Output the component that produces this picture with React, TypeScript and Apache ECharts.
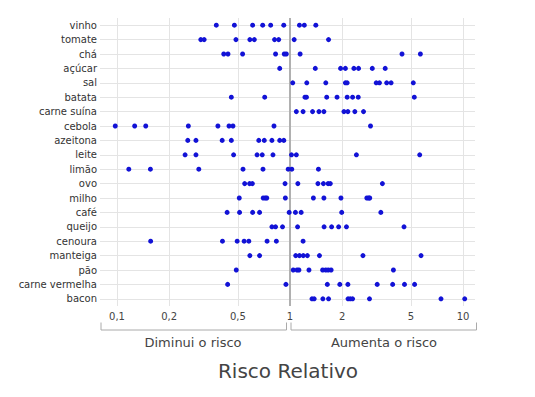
import React, { useEffect, useRef } from 'react';
import * as echarts from 'echarts';

const categories = ['vinho', 'tomate', 'chá', 'açúcar', 'sal', 'batata', 'carne suína', 'cebola', 'azeitona', 'leite', 'limão', 'ovo', 'milho', 'café', 'queijo', 'cenoura', 'manteiga', 'pão', 'carne vermelha', 'bacon'];

const vinho = [0.375, 0.477, 0.608, 0.695, 0.773, 0.92, 1.134, 1.21, 1.41];
const tomate = [0.305, 0.319, 0.487, 0.586, 0.622, 0.814, 0.86, 1.057, 1.67];
const cha = [0.414, 0.438, 0.532, 0.825, 0.926, 0.952, 1.144, 4.44, 5.67];
const acucar = [0.872, 1.4, 1.96, 2.09, 2.34, 2.49, 2.99, 3.55];
const sal = [1.037, 1.25, 1.61, 2.09, 2.14, 3.15, 3.29, 3.62, 3.84, 5.16];
const batata = [0.458, 0.714, 1.22, 1.245, 1.63, 1.87, 2.14, 2.3, 2.48, 5.23];
const carneSuina = [1.088, 1.19, 1.35, 1.47, 1.57, 2.05, 2.16, 2.37, 2.66];
const cebola = [0.0977, 0.1265, 0.1466, 0.2585, 0.383, 0.444, 0.468, 0.808, 2.92];
const azeitona = [0.2565, 0.286, 0.4055, 0.458, 0.66, 0.71, 0.786, 0.872, 0.921];
const leite = [0.2475, 0.286, 0.472, 0.645, 0.691, 0.797, 1.02, 1.088, 2.42, 5.62];
const limao = [0.117, 0.156, 0.297, 0.535, 0.698, 0.976, 1.024, 1.46];
const ovo = [0.547, 0.584, 0.606, 0.936, 1.11, 1.45, 1.56, 1.66, 1.71, 3.42];
const milho = [0.509, 0.7, 0.72, 0.734, 0.94, 1.365, 1.57, 1.97, 2.78, 2.85, 2.89];
const cafe = [0.433, 0.511, 0.608, 0.667, 0.989, 1.075, 1.16, 1.99, 3.35];
const queijo = [0.786, 0.825, 0.905, 1.106, 1.574, 1.74, 1.91, 2.12, 4.56];
const cenoura = [0.1565, 0.407, 0.495, 0.543, 0.578, 0.737, 0.834, 1.19];
const manteiga = [0.586, 0.667, 1.079, 1.134, 1.193, 1.26, 1.48, 2.64, 5.72];
const pao = [0.489, 1.044, 1.098, 1.126, 1.287, 1.543, 1.608, 1.664, 1.728, 3.96];
const carneVermelha = [0.436, 0.947, 1.643, 1.94, 2.16, 3.19, 3.92, 4.59, 5.25];
const bacon = [1.34, 1.38, 1.549, 1.67, 2.165, 2.23, 2.3, 2.88, 7.46, 10.23];

const rowValues = [vinho, tomate, cha, acucar, sal, batata, carneSuina, cebola, azeitona, leite, limao, ovo, milho, cafe, queijo, cenoura, manteiga, pao, carneVermelha, bacon];

const tickValues = [0.1, 0.2, 0.5, 1, 2, 5, 10];
const tickLabels = ['0,1', '0,2', '0,5', '1', '2', '5', '10'];

const FONT = 'DejaVu Sans';

export default function App() {
  const ref = useRef<HTMLDivElement>(null);
  useEffect(() => {
    if (!ref.current) return;
    const chart = echarts.init(ref.current, null, { renderer: 'svg' });
    const points: [number, string][] = [];
    rowValues.forEach((vals, i) => {
      vals.forEach((v) => points.push([v, categories[i]]));
    });
    chart.setOption({
      animation: false,
      backgroundColor: '#ffffff',
      textStyle: { fontFamily: FONT },
      grid: { left: 100, right: 60, top: 18, bottom: 91, containLabel: false },
      xAxis: {
        type: 'log',
        logBase: 10,
        min: 0.07975,
        max: 11.73,
        axisLine: { show: false },
        axisTick: { show: false },
        splitLine: { show: false },
        axisLabel: {
          customValues: tickValues,
          margin: 5,
          fontSize: 10,
          color: '#444',
          fontFamily: FONT,
          formatter: (v: number) => {
            const idx = tickValues.findIndex((t) => Math.abs(t - v) < 1e-9);
            return idx >= 0 ? tickLabels[idx] : '';
          },
        },
      },
      yAxis: {
        type: 'category',
        data: categories,
        inverse: true,
        boundaryGap: true,
        axisLine: { show: false },
        axisTick: { show: false },
        splitLine: { show: false },
        axisLabel: { fontSize: 10, color: '#333', margin: 3, fontFamily: FONT },
      },
      series: [
        {
          type: 'scatter',
          data: [],
          z: 1,
          silent: true,
          markLine: {
            silent: true,
            z: 1,
            symbol: 'none',
            label: { show: false },
            animation: false,
            lineStyle: { color: '#e4e4e4', width: 1, type: 'solid' },
            data: [
              ...categories.map((_, i) => ({ yAxis: i })),
              ...tickValues.filter((t) => t !== 1).map((t) => ({ xAxis: t })),
            ],
          },
        },
        {
          type: 'scatter',
          data: [],
          z: 2,
          silent: true,
          markLine: {
            silent: true,
            z: 2,
            symbol: 'none',
            label: { show: false },
            animation: false,
            lineStyle: { color: '#b0b0b0', width: 2, type: 'solid' },
            data: [{ xAxis: 1 }],
          },
        },
        {
          type: 'scatter',
          z: 10,
          symbol: 'circle',
          symbolSize: 5,
          itemStyle: { color: '#1212d6', opacity: 1, borderWidth: 0 },
          data: points,
        },
      ],
      graphic: [
        {
          type: 'polyline',
          shape: { points: [[101, 322.5], [101, 330], [286.5, 330], [286.5, 322.5]] },
          style: { stroke: '#aaaaaa', lineWidth: 1, fill: 'none' },
        },
        {
          type: 'polyline',
          shape: { points: [[291, 322.5], [291, 330], [476.5, 330], [476.5, 322.5]] },
          style: { stroke: '#aaaaaa', lineWidth: 1, fill: 'none' },
        },
        {
          type: 'text',
          x: 193,
          y: 342,
          style: { text: 'Diminui o risco', fontSize: 13, fill: '#444', fontFamily: FONT, textAlign: 'center', textVerticalAlign: 'middle' },
        },
        {
          type: 'text',
          x: 384,
          y: 342,
          style: { text: 'Aumenta o risco', fontSize: 13, fill: '#444', fontFamily: FONT, textAlign: 'center', textVerticalAlign: 'middle' },
        },
        {
          type: 'text',
          x: 288,
          y: 371,
          style: { text: 'Risco Relativo', fontSize: 20, fill: '#444', fontFamily: FONT, textAlign: 'center', textVerticalAlign: 'middle' },
        },
      ],
    });
    return () => chart.dispose();
  }, []);
  return <div ref={ref} style={{ position: 'fixed', left: 0, top: 0, width: 535, height: 397 }} />;
}
